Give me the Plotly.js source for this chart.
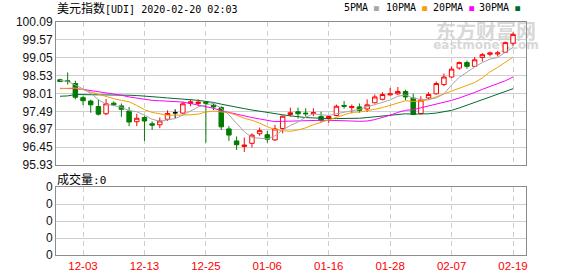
<!DOCTYPE html>
<html><head><meta charset="utf-8">
<script src="https://cdn.plot.ly/plotly-3.0.1.min.js"></script>
<style>html,body{margin:0;padding:0;background:#fff;}#chart{width:578px;height:276px;}</style>
</head><body><div id="chart"></div>
<script>
const dates = ['11-28','11-29','12-02','12-03','12-04','12-05','12-06','12-09','12-10','12-11','12-12','12-13','12-16','12-17','12-18','12-19','12-20','12-23','12-24','12-25','12-26','12-27','12-30','12-31','01-01','01-02','01-03','01-06','01-07','01-08','01-09','01-10','01-13','01-14','01-15','01-16','01-17','01-20','01-21','01-22','01-23','01-24','01-27','01-28','01-29','01-30','01-31','02-03','02-04','02-05','02-06','02-07','02-10','02-11','02-12','02-13','02-14','02-17','02-18','02-19'];
const open  = [98.41,98.38,98.30,97.89,97.79,97.63,97.42,97.73,97.65,97.50,97.19,97.31,97.13,97.10,97.26,97.45,97.44,97.72,97.72,97.76,97.67,97.60,96.98,96.63,96.47,96.56,96.84,96.81,96.66,96.99,97.40,97.48,97.44,97.43,97.34,97.28,97.37,97.66,97.60,97.62,97.56,97.74,97.84,97.97,98.00,98.07,97.88,97.43,97.88,98.00,98.27,98.49,98.75,98.91,98.80,99.06,99.15,99.16,99.21,99.47];
const high  = [98.44,98.62,98.38,97.93,97.83,97.83,97.85,97.78,97.72,97.62,97.42,97.35,97.20,97.31,97.52,97.55,97.78,97.84,97.84,97.79,97.73,97.64,97.06,96.76,96.73,96.85,97.02,96.92,97.10,97.37,97.60,97.60,97.58,97.58,97.48,97.36,97.69,97.79,97.69,97.72,97.84,97.98,98.05,98.17,98.20,98.12,98.01,97.93,98.05,98.36,98.59,98.80,98.94,98.97,99.07,99.19,99.23,99.25,99.52,99.79];
const low   = [98.34,98.27,97.84,97.67,97.45,97.37,97.38,97.64,97.33,97.06,97.06,96.63,96.95,97.00,97.21,97.29,97.42,97.64,97.64,96.58,97.53,96.95,96.63,96.37,96.31,96.44,96.78,96.58,96.63,96.85,97.34,97.28,97.34,97.35,97.16,97.16,97.35,97.57,97.43,97.45,97.47,97.72,97.81,97.95,97.97,97.81,97.40,97.40,97.82,97.98,98.22,98.46,98.70,98.73,98.80,98.94,99.09,99.09,99.19,99.40];
const close = [98.36,98.36,97.90,97.80,97.68,97.41,97.71,97.68,97.55,97.18,97.29,97.21,97.09,97.21,97.43,97.45,97.71,97.77,97.76,97.73,97.62,97.04,96.80,96.52,96.51,96.80,96.93,96.68,96.98,97.35,97.45,97.42,97.42,97.45,97.23,97.34,97.64,97.64,97.63,97.52,97.68,97.91,97.98,98.00,98.07,97.91,97.40,97.82,97.98,98.30,98.49,98.72,98.91,98.80,98.99,99.14,99.19,99.19,99.49,99.73];
const ma5  = [98.39,98.36,98.26,98.14,98.02,97.83,97.70,97.66,97.61,97.51,97.48,97.38,97.26,97.20,97.25,97.28,97.38,97.51,97.62,97.68,97.72,97.58,97.39,97.14,96.90,96.73,96.71,96.69,96.78,96.95,97.08,97.18,97.32,97.42,97.39,97.37,97.42,97.46,97.50,97.55,97.62,97.68,97.74,97.82,97.93,97.97,97.87,97.84,97.84,97.88,98.00,98.26,98.48,98.64,98.78,98.91,99.01,99.06,99.20,99.35];
const ma10 = [98.15,98.17,98.17,98.12,98.05,97.98,97.92,97.86,97.81,97.77,97.66,97.54,97.46,97.41,97.38,97.38,97.38,97.39,97.41,97.47,97.50,97.48,97.45,97.38,97.29,97.23,97.15,97.04,96.96,96.93,96.91,96.95,97.01,97.10,97.17,97.23,97.30,97.39,97.46,97.47,97.50,97.55,97.60,97.66,97.74,97.80,97.78,97.79,97.83,97.91,97.99,98.07,98.16,98.24,98.33,98.46,98.64,98.77,98.92,99.07];
const ma20 = [98.16,98.16,98.15,98.13,98.10,98.07,98.04,98.01,97.96,97.91,97.87,97.84,97.81,97.80,97.79,97.78,97.76,97.72,97.68,97.62,97.58,97.51,97.46,97.40,97.34,97.31,97.27,97.22,97.19,97.20,97.21,97.22,97.23,97.24,97.23,97.23,97.23,97.22,97.21,97.20,97.21,97.25,97.31,97.38,97.46,97.52,97.54,97.59,97.65,97.69,97.75,97.81,97.88,97.95,98.04,98.13,98.21,98.28,98.38,98.49];
const ma30 = [97.93,97.94,97.98,97.98,97.98,97.98,97.98,97.98,97.97,97.96,97.95,97.94,97.92,97.90,97.88,97.87,97.85,97.83,97.81,97.79,97.75,97.70,97.65,97.61,97.57,97.53,97.49,97.46,97.42,97.39,97.36,97.33,97.31,97.30,97.28,97.28,97.28,97.28,97.28,97.29,97.31,97.33,97.36,97.38,97.40,97.42,97.41,97.41,97.42,97.44,97.47,97.52,97.59,97.67,97.75,97.83,97.91,97.98,98.07,98.15];
const volume = [0,0,0,0,0,0,0,0,0,0,0,0,0,0,0,0,0,0,0,0,0,0,0,0,0,0,0,0,0,0,0,0,0,0,0,0,0,0,0,0,0,0,0,0,0,0,0,0,0,0,0,0,0,0,0,0,0,0,0,0];
const xTickLabels = ['12-03','12-13','12-25','01-06','01-16','01-28','02-07','02-19'];
const yTickValues = [95.93,96.45,96.97,97.49,98.01,98.53,99.05,99.57,100.09];
const yTickLabels = ['95.93','96.45','96.97','97.49','98.01','98.53','99.05','99.57','100.09'];
const volTickValues = [0,1,2,3,4];
const volTickLabels = ['0','0','0','0','0'];
const maNames = ['5PMA','10PMA','20PMA','30PMA'];
const maColors = ['#a6a6a6','#f5a000','#ff00ff','#006b30'];

const RED = '#ff0000', GREEN = '#007c00';
function pick(cond) {
  const idx = dates.map((d,i)=>i).filter(cond);
  return {x: idx.map(i=>dates[i]), open: idx.map(i=>open[i]), high: idx.map(i=>high[i]), low: idx.map(i=>low[i]), close: idx.map(i=>close[i])};
}
const up = pick(i => close[i] > open[i]);
const down = pick(i => close[i] < open[i]);
const flat = pick(i => close[i] === open[i]);

const traces = [];
[ma30, ma20, ma10, ma5].forEach((arr, k) => {
  const ci = 3 - k;
  traces.push({type:'scatter', mode:'lines', x: dates, y: arr, xaxis:'x', yaxis:'y',
    line:{color: maColors[ci], width:1}, hoverinfo:'skip', showlegend:false});
});
traces.push(Object.assign({type:'candlestick', xaxis:'x', yaxis:'y', showlegend:false, whiskerwidth:0,
  increasing:{line:{color:RED, width:1}, fillcolor:'#ffffff'},
  decreasing:{line:{color:RED, width:1}, fillcolor:'#ffffff'}}, up));
traces.push(Object.assign({type:'candlestick', xaxis:'x', yaxis:'y', showlegend:false, whiskerwidth:0,
  increasing:{line:{color:GREEN, width:1}, fillcolor:GREEN},
  decreasing:{line:{color:GREEN, width:1}, fillcolor:GREEN}}, down));
traces.push(Object.assign({type:'candlestick', xaxis:'x', yaxis:'y', showlegend:false, whiskerwidth:0,
  increasing:{line:{color:'#000000', width:1}, fillcolor:'#000000'},
  decreasing:{line:{color:'#000000', width:1}, fillcolor:'#000000'}}, flat));
traces.push({type:'bar', x: dates, y: volume, xaxis:'x2', yaxis:'y2', marker:{color:RED}, showlegend:false, hoverinfo:'skip'});

const L = 56, R = 526, T = 22, B = 255;
const px = v => (v - L) / (R - L);
const py = v => (B - v) / (B - T);
const xr = [-0.52, 60.69];
const gridDash = '5px,4px';
const axisCommon = {type:'category', categoryorder:'array', categoryarray: dates, range: xr,
  tickmode:'array', tickvals: xTickLabels, ticks:'', showgrid:true, gridcolor:'#cfcfcf', griddash: gridDash,
  showline:true, mirror:true, linecolor:'#8c8c8c', linewidth:1, zeroline:false, fixedrange:true,
  rangeslider:{visible:false}};

const mono = 'DejaVu Sans Mono, monospace';
const cjk = 'Noto Sans CJK SC';
const annotations = [
  {xref:'paper', yref:'paper', x: px(55), y: py(8), xanchor:'left', yanchor:'middle', showarrow:false,
   text:'<span style="font-family:Noto Sans CJK SC;font-size:12px">美元指数</span>[UDI] 2020-02-20 02:03',
   font:{family: mono, size:10, color:'#000'}},
  {xref:'paper', yref:'paper', x: px(55), y: py(178), xanchor:'left', yanchor:'middle', showarrow:false,
   text:'<span style="font-family:Noto Sans CJK SC;font-size:12px">成交量</span>:0',
   font:{family: mono, size:11, color:'#000'}}
];
const legendX = [342, 384, 431, 477];
maNames.forEach((n, i) => {
  annotations.push({xref:'paper', yref:'paper', x: px(legendX[i]), y: py(8), xanchor:'left', yanchor:'middle', showarrow:false,
    text: n + ' <span style="color:' + maColors[i] + ';font-size:8px">■</span>',
    font:{family: mono, size:10, color:'#000'}});
});

const shapes = [
  {type:'rect', layer:'below', xref:'paper', yref:'paper', x0: px(446), x1: px(526), y0: py(42), y1: py(24),
   line:{width:0}, fillcolor:'rgba(0,0,0,0)',
   label:{text:'东方财富网', font:{family: cjk, size:20, color:'#d8d8d8', weight:'bold'}, textposition:'middle center'}},
  {type:'rect', layer:'below', xref:'paper', yref:'paper', x0: px(446), x1: px(526), y0: py(50), y1: py(38),
   line:{width:0}, fillcolor:'rgba(0,0,0,0)',
   label:{text:'eastmoney.com', font:{family:'DejaVu Sans', size:12, color:'#d8d8d8', weight:'bold'}, textposition:'middle center'}}
];

const layout = {
  width:578, height:276, margin:{l:L, r:578-R, t:T, b:276-B, pad:0},
  paper_bgcolor:'#ffffff', plot_bgcolor:'#ffffff', showlegend:false,
  boxgap:0.42, boxgroupgap:0, dragmode:false,
  xaxis: Object.assign({}, axisCommon, {anchor:'y', showticklabels:false}),
  xaxis2: Object.assign({}, axisCommon, {anchor:'y2', showticklabels:true,
    tickfont:{family:'Liberation Sans, Arial, sans-serif', size:11.5, color:'#ff0000'}}),
  yaxis: {domain:[py(165), 1], range:[95.93, 100.09], tickmode:'array', tickvals: yTickValues, ticktext: yTickLabels,
    ticks:'', showgrid:true, gridcolor:'#cfcfcf', showline:true, mirror:true, linecolor:'#8c8c8c', zeroline:false, fixedrange:true,
    tickfont:{family:'Liberation Sans, Arial, sans-serif', size:12, color:'#111'}},
  yaxis2: {domain:[0, py(187)], range:[0, 4], tickmode:'array', tickvals: volTickValues, ticktext: volTickLabels,
    ticks:'', showgrid:true, gridcolor:'#cfcfcf', showline:true, mirror:true, linecolor:'#8c8c8c', zeroline:false, fixedrange:true,
    tickfont:{family:'Liberation Sans, Arial, sans-serif', size:12, color:'#111'}},
  annotations: annotations,
  shapes: shapes
};
Plotly.newPlot('chart', traces, layout, {displayModeBar:false, staticPlot:true});
</script></body></html>
